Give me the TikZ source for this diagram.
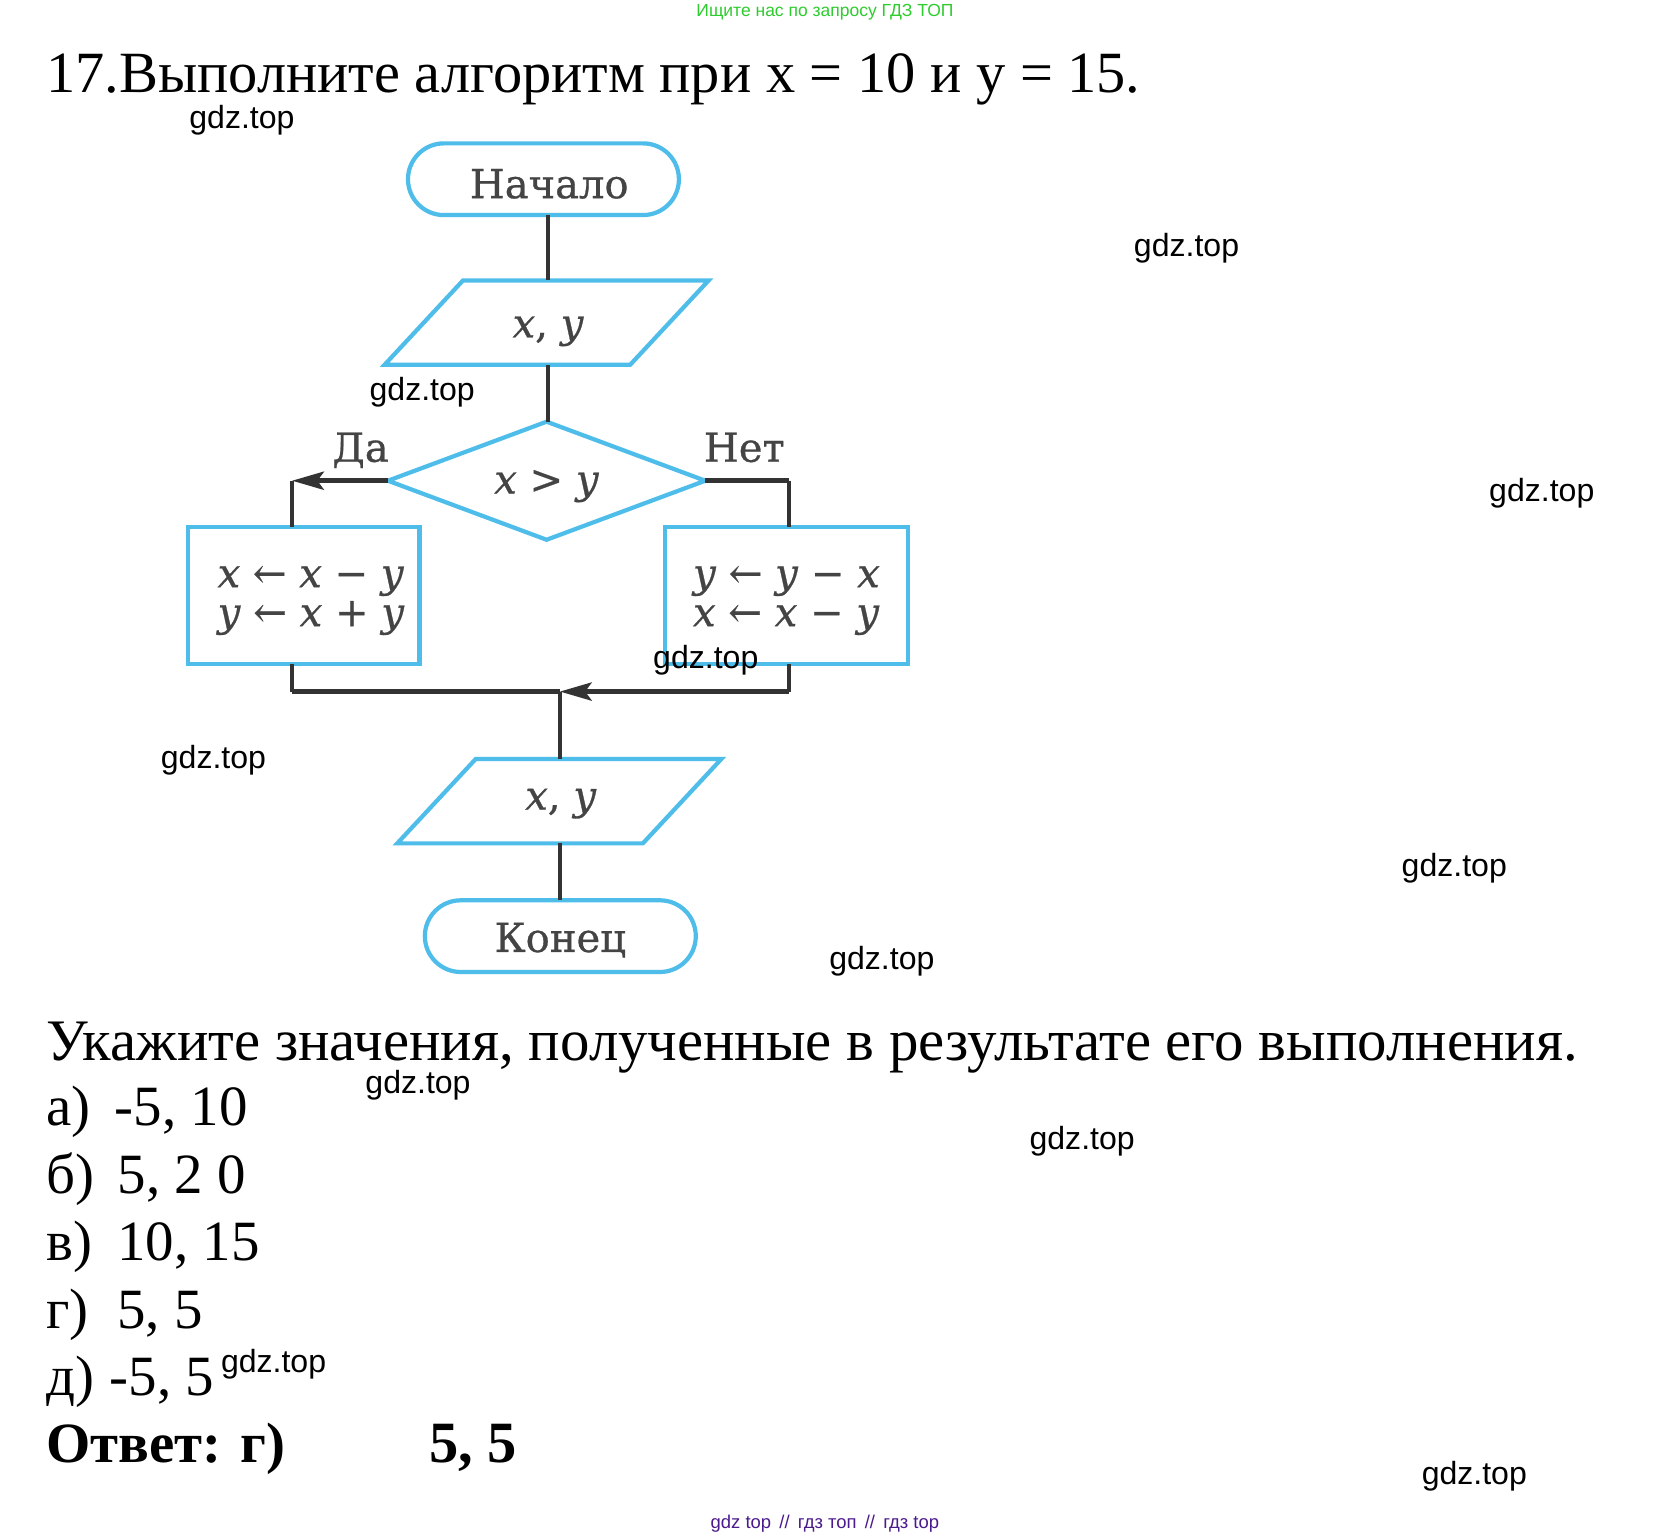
\documentclass[tikz,border=0pt]{standalone}
\usepackage{fontspec}
\setmainfont{Liberation Serif}
\newfontfamily\wmfont{Liberation Sans}
\newfontfamily\fcfont[FakeBold=0.7]{DejaVu Serif}
\usetikzlibrary{shapes.geometric,shapes.misc,arrows.meta}
\definecolor{fcblue}{HTML}{4FBDEA}
\definecolor{fcline}{HTML}{333333}
\definecolor{fctext}{HTML}{444444}
\definecolor{wmgreen}{HTML}{2ECC2E}
\definecolor{wmpurple}{HTML}{4B1A8C}
\newcommand{\lblsize}{\fontsize{38}{37}\fcfont}
\newcommand{\vv}[1]{\textit{#1}}
\tikzset{
  x=1pt,y=-1pt,
  bluebox/.style={draw=fcblue,line width=4pt,inner sep=0pt,outer sep=0pt,text=fctext,font=\lblsize},
  terminal/.style={bluebox,rounded rectangle,minimum width=257pt,minimum height=68pt,text depth=0pt},
  inout/.style={bluebox,rectangle,minimum width=233pt,minimum height=80pt,xslant=0.93,transform shape},
  decide/.style={bluebox,diamond,aspect=2.69,minimum width=301pt,minimum height=112pt,text height=24pt,text depth=0pt},
  action/.style={bluebox,rectangle,minimum height=130pt},
  fclabel/.style={anchor=base,inner sep=0pt,outer sep=0pt,text=fctext,font=\lblsize},
  conn/.style={draw=fcline,line width=3.8pt},
  connh/.style={draw=fcline,line width=5pt},
  tip/.style={-{Stealth[length=30pt,width=17pt,inset=6pt]}},
  body/.style={anchor=base west,inner sep=0pt,outer sep=0pt,font=\fontsize{55.8}{60}\selectfont},
  option/.style={body,font=\fontsize{54}{60}\selectfont},
  strong/.style={body,font=\fontsize{54}{60}\selectfont\bfseries},
  wm/.style={inner sep=0pt,outer sep=0pt,xshift=0.5pt,yshift=-2.5pt,font=\fontsize{30.4}{32}\wmfont,text=black},
}
\begin{document}
\begin{tikzpicture}
\path[use as bounding box,fill=white] (0,0) rectangle (1568,1458);

% header text
\node[inner sep=0pt,outer sep=0pt,font=\fontsize{16.6}{19}\wmfont,text=wmgreen] (topnote) at (782.5,12) {Ищите нас по запросу ГДЗ ТОП};
\node[body,font=\fontsize{55.4}{60}\selectfont] (title) at (44,88) {17.Выполните алгоритм при x = 10 и y = 15.};

% flowchart nodes
\node[terminal,text height=36pt] (start) at (515.5,170) {\hspace*{11pt}Начало};
\node[inout] (in) at (518.5,306) {};
\node[fclabel] (intext) at (520,320) {\vv{x}, \vv{y}};
\node[decide] (cond) at (518.5,456) {\vv{x} > \vv{y}};
\node[action,minimum width=220pt] (lbox) at (288,565) {\hspace*{14pt}\begin{tabular}{@{}l@{}}\rule{0pt}{32pt}\vv{x} ← \vv{x} − \vv{y}\\\vv{y} ← \vv{x} + \vv{y}\end{tabular}};
\node[action,minimum width=230pt] (rbox) at (746,565) {\begin{tabular}{@{}l@{}}\rule{0pt}{32pt}\vv{y} ← \vv{y} − \vv{x}\\\vv{x} ← \vv{x} − \vv{y}\end{tabular}};
\node[inout] (out) at (530.5,760) {};
\node[fclabel] (outtext) at (532,768) {\vv{x}, \vv{y}};
\node[terminal,text height=30pt] (end) at (531.5,888) {Конец};
\node[fclabel] (yes) at (342,438) {Да};
\node[fclabel] (no) at (706,438) {Нет};

% connector way points
\coordinate (ldrop) at (277,456);
\coordinate (rdrop) at (748,456);
\coordinate (lmerge) at (277,656);
\coordinate (rmerge) at (748,656);
\coordinate (merge) at (531,656);

% connectors
\draw[conn] (start.south -| intext) -- (in.north -| intext);
\draw[conn] (in.south -| intext) -- (cond.north -| intext);
\draw[connh,tip] (cond.west) -- (ldrop);
\draw[conn] (ldrop) -- (ldrop |- lbox.north);
\draw[connh] (cond.east) -- (rdrop);
\draw[conn] (rdrop) -- (rdrop |- rbox.north);
\draw[conn] (lmerge |- lbox.south) -- (lmerge);
\draw[connh] (lmerge) -- (merge);
\draw[conn] (rmerge |- rbox.south) -- (rmerge);
\draw[connh,tip] (rmerge) -- (merge);
\draw[conn] (merge) -- (out.north -| merge);
\draw[conn] (out.south -| merge) -- (end.north -| merge);

% answer text
\node[body] (task) at (44,1006) {Укажите значения, полученные в результате его выполнения.};
\node[option] (opta) at (44,1068) {\makebox[65pt][l]{а)}-5, 10};
\node[option] (optb) at (44,1132) {\makebox[67.5pt][l]{б)}5, 2 0};
\node[option] (optc) at (44,1196) {\makebox[67.5pt][l]{в)}10, 15};
\node[option] (optd) at (44,1260) {\makebox[67.5pt][l]{г)}5, 5};
\node[option] (opte) at (44,1324) {\makebox[60pt][l]{д)}-5, 5};
\node[strong] (ans) at (44,1387) {Ответ: г)};
\node[strong,font=\fontsize{55.5}{60}\selectfont\bfseries] (ansv) at (407,1387) {5, 5};

% watermarks
\node[wm] (w1) at (229,112) {gdz.top};
\node[wm] (w2) at (1125,233) {gdz.top};
\node[wm] (w3) at (400,370) {gdz.top};
\node[wm] (w4) at (1462,465) {gdz.top};
\node[wm] (w5) at (669,624) {gdz.top};
\node[wm] (w6) at (202,719) {gdz.top};
\node[wm] (w7) at (1379,821) {gdz.top};
\node[wm] (w8) at (836,909) {gdz.top};
\node[wm] (w9) at (396,1027) {gdz.top};
\node[wm] (w10) at (1026,1080) {gdz.top};
\node[wm] (w11) at (259,1292) {gdz.top};
\node[wm] (w12) at (1398,1398) {gdz.top};
\node[inner sep=0pt,outer sep=0pt,font=\fontsize{17.5}{19}\wmfont,text=wmpurple] (botnote) at (782.5,1445) {gdz top \,//\, гдз топ \,//\, гдз top};
\end{tikzpicture}
\end{document}
